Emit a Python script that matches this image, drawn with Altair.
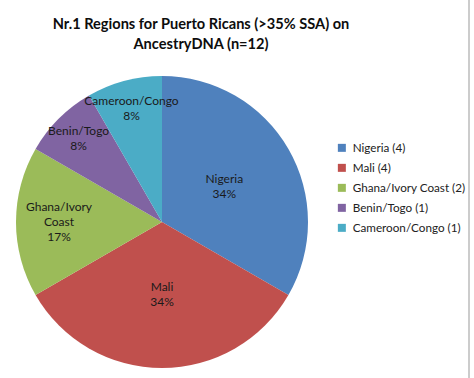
import altair as alt
import pandas as pd

regions = ["Nigeria", "Mali", "Ghana/Ivory Coast", "Benin/Togo", "Cameroon/Congo"]
counts = [4, 4, 2, 1, 1]
slice_names = ["Nigeria", "Mali", "Ghana/Ivory\nCoast", "Benin/Togo", "Cameroon/Congo"]
pct_labels = ["34%", "34%", "17%", "8%", "8%"]
colors = ["#4F81BD", "#C0504D", "#9BBB59", "#8064A2", "#4BACC6"]
title_lines = ["Nr.1 Regions for Puerto Ricans (>35% SSA) on", "AncestryDNA (n=12)"]

FONT = "Lato"
CX, CY, R = 162, 222, 146
LINE_H = 15

df = pd.DataFrame({
    "region": regions,
    "count": counts,
    "name": slice_names,
    "pct": pct_labels,
    "order": list(range(len(regions))),
})
df["legend"] = [f"{r} ({c})" for r, c in zip(regions, counts)]
legend_domain = list(df["legend"])

pie = alt.Chart(df).mark_arc(outerRadius=R, stroke=None).encode(
    theta=alt.Theta("count:Q", stack=True),
    order=alt.Order("order:Q"),
    x=alt.value(CX),
    y=alt.value(CY),
    color=alt.Color(
        "legend:N",
        scale=alt.Scale(domain=legend_domain, range=colors),
        legend=alt.Legend(
            title=None,
            orient="none",
            legendX=336,
            legendY=142,
            symbolType="square",
            symbolSize=64,
            symbolStrokeWidth=0,
            labelFont=FONT,
            labelFontSize=11.7,
            labelColor="#222222",
            rowPadding=7,
            labelOffset=5,
        ),
    ),
)

labels = alt.Chart(df).transform_joinaggregate(
    total="sum(count)"
).transform_window(
    cum="sum(count)", sort=[alt.SortField("order")], frame=[None, 0]
).transform_calculate(
    txt="datum.name + '\\n' + datum.pct",
    ang="(datum.cum - datum.count / 2) / datum.total * 2 * PI",
    lr="datum.count >= 4 ? 72 : (datum.count >= 2 ? 103 : 118)",
    nl="split(datum.txt, '\\n').length",
).transform_calculate(
    px=f"{CX} + datum.lr * sin(datum.ang)",
    py=f"{CY} - datum.lr * cos(datum.ang) - (datum.nl - 1) * {LINE_H} / 2",
).mark_text(
    font=FONT, fontSize=12, color="#1A1A1A", lineBreak="\n", lineHeight=LINE_H,
    align="center", baseline="middle",
).encode(
    x=alt.X("px:Q", scale=None),
    y=alt.Y("py:Q", scale=None),
    text="txt:N",
)

title_layers = []
for line, ypos in zip(title_lines, [25, 45]):
    title_layers.append(
        alt.Chart(pd.DataFrame({"t": [line]})).mark_text(
            font=FONT, fontSize=14.6, fontWeight="bold", color="#0D0D0D",
            align="center", baseline="middle",
        ).encode(x=alt.value(201), y=alt.value(ypos), text="t:N")
    )

edge = alt.Chart(pd.DataFrame({"a": [0]})).mark_rule(color="#CCCCCC", strokeWidth=2).encode(
    x=alt.value(469), y=alt.value(0), y2=alt.value(378)
)

chart = alt.layer(pie, labels, *title_layers, edge).properties(
    width=474, height=378, padding=0, autosize=alt.AutoSizeParams(type="none"),
    background="white",
).configure_view(stroke=None)

chart.save("out.html", embed_options={"renderer": "svg", "actions": False})
